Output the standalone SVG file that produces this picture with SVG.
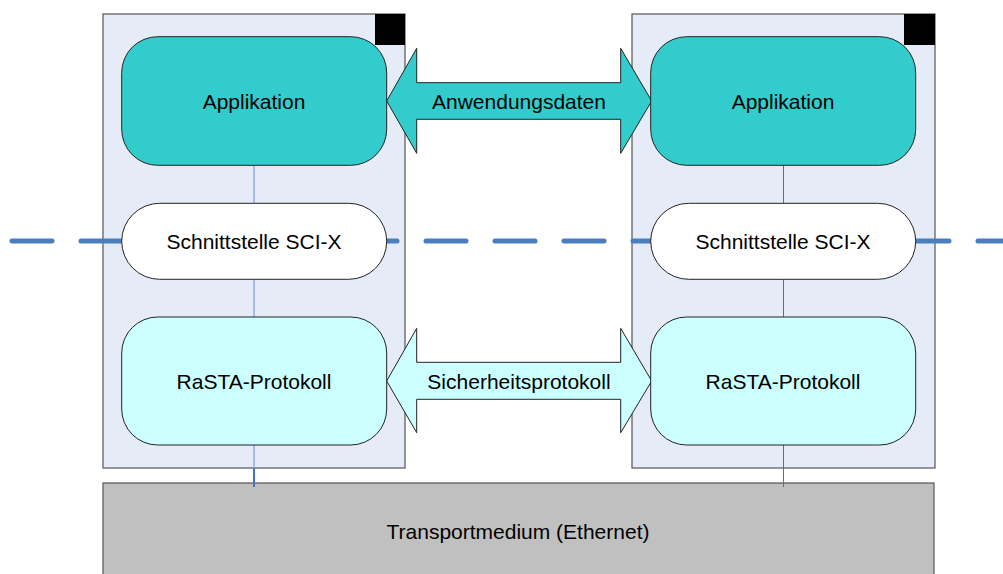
<svg xmlns="http://www.w3.org/2000/svg" width="1003" height="574" viewBox="0 0 1003 574">
<style>
text{font-family:"Liberation Sans",Arial,sans-serif;font-size:21px;fill:#000;text-anchor:middle}
.cont{fill:#e6ecf7;stroke:#555;stroke-width:1.2}
.blk{fill:#000}
.app{fill:#33cccc;stroke:#222;stroke-width:1}
.ras{fill:#ccffff;stroke:#222;stroke-width:1}
.sci{fill:#fff;stroke:#222;stroke-width:1}
.arrA{fill:#33cccc;stroke:#222;stroke-width:1}
.arrB{fill:#ccffff;stroke:#222;stroke-width:1}
.trans{fill:#c0c0c0;stroke:#555;stroke-width:1.2}
.vin{stroke:#8fb0e0;stroke-width:1.5}
.vout{stroke:#4472c4;stroke-width:2}
.vr{stroke:#4a6fb8;stroke-width:1}
.dash{stroke:#4a7ebf;stroke-width:5;stroke-dasharray:40 29;stroke-linecap:round;fill:none}
</style>
<rect width="1003" height="574" fill="#fff"/>
<g id="transport">
<rect class="trans" x="103" y="483" width="831" height="100"/>
<text x="518" y="538.5">Transportmedium (Ethernet)</text>
</g>
<g id="container-left">
<rect class="cont" x="103" y="14" width="302" height="454"/>
<rect class="blk" x="375" y="14" width="30" height="31"/>
</g>
<g id="container-right">
<rect class="cont" x="632" y="14" width="303" height="454"/>
<rect class="blk" x="904" y="14" width="31" height="31"/>
</g>
<g id="connectors">
<line class="vin" x1="254" y1="165" x2="254" y2="204"/>
<line class="vin" x1="254" y1="279" x2="254" y2="318"/>
<line class="vin" x1="254" y1="445" x2="254" y2="468"/>
<line class="vout" x1="254" y1="468" x2="254" y2="487"/>
<line class="vr" x1="783.5" y1="165" x2="783.5" y2="204"/>
<line class="vr" x1="783.5" y1="279" x2="783.5" y2="318"/>
<line class="vr" x1="783.5" y1="445" x2="783.5" y2="487"/>
<line class="dash" x1="12" y1="241" x2="1010" y2="241"/>
</g>
<g id="arrow-anwendungsdaten">
<polygon class="arrA" points="386.7,101 416.7,48.3 416.7,82.7 620.7,82.7 620.7,48.3 651.7,101 620.7,153.3 620.7,119.3 416.7,119.3 416.7,153.3"/>
<text x="519" y="108.5">Anwendungsdaten</text>
</g>
<g id="arrow-sicherheitsprotokoll">
<polygon class="arrB" points="386.7,381 416.7,328.3 416.7,362.3 620.7,362.3 620.7,328.3 651.7,381 620.7,432.7 620.7,399.3 416.7,399.3 416.7,432.7"/>
<text x="519" y="388.5">Sicherheitsprotokoll</text>
</g>
<g id="app-left">
<rect class="app" x="121.7" y="36.7" width="265" height="128.6" rx="36" ry="36"/>
<text x="254" y="108.5">Applikation</text>
</g>
<g id="app-right">
<rect class="app" x="650.7" y="36.7" width="265" height="128.6" rx="36" ry="36"/>
<text x="783" y="108.5">Applikation</text>
</g>
<g id="sci-left">
<rect class="sci" x="121.7" y="203.3" width="265" height="76" rx="38" ry="38"/>
<text x="254" y="248.5">Schnittstelle SCI-X</text>
</g>
<g id="sci-right">
<rect class="sci" x="650.7" y="203.3" width="265" height="76" rx="38" ry="38"/>
<text x="783" y="248.5">Schnittstelle SCI-X</text>
</g>
<g id="rasta-left">
<rect class="ras" x="121.7" y="317" width="265" height="128" rx="36" ry="36"/>
<text x="254" y="388.5">RaSTA-Protokoll</text>
</g>
<g id="rasta-right">
<rect class="ras" x="650.7" y="317" width="265" height="128" rx="36" ry="36"/>
<text x="783" y="388.5">RaSTA-Protokoll</text>
</g>
</svg>
